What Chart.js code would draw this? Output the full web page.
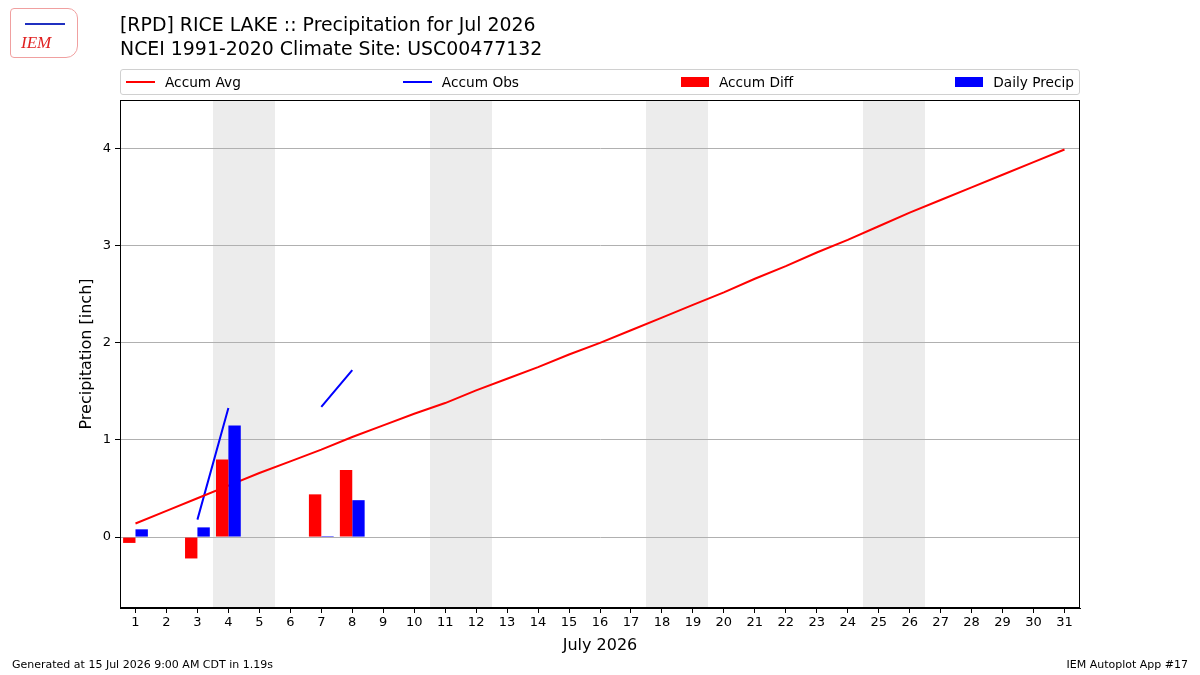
<!DOCTYPE html>
<html>
<head>
<meta charset="utf-8">
<script src="https://cdn.jsdelivr.net/npm/chart.js@4.4.1/dist/chart.umd.min.js"></script>
<style>
  html, body { margin: 0; padding: 0; background: #fff; }
  body { width: 1200px; height: 675px; position: relative; overflow: hidden; font-family: "DejaVu Sans", sans-serif; color: #000; }
  #wrap { position: absolute; left: 0; top: 0; width: 1200px; height: 675px; }
  .title { position: absolute; left: 120px; font-size: 18.9px; white-space: nowrap; }
  #legend { position: absolute; left: 120px; top: 69px; width: 960px; height: 26px; border: 1px solid #d0d0d0; border-radius: 3px;
            display: flex; justify-content: space-between; align-items: center; padding: 0 5px 0 5px; box-sizing: border-box; font-size: 13.7px; }
  .item { display: flex; align-items: center; }
  .line { width: 29px; height: 2px; margin-right: 10px; }
  .box { width: 28px; height: 10px; margin-right: 10px; }
  .foot { position: absolute; top: 658px; font-size: 11px; white-space: nowrap; }
  #logo { position: absolute; left: 10px; top: 8px; width: 66px; height: 48px; border: 1px solid #f0a0a0; border-radius: 4px 10px 12px 4px; }
  #logo span { position: absolute; left: 10px; top: 24px; color: #e02020; font: italic 17px "Liberation Serif", serif; }
  #logo i { position: absolute; left: 14px; top: 14px; width: 40px; height: 2px; background: #2030c0; }
</style>
</head>
<body>
<div id="wrap"><canvas id="chart" width="1200" height="675"></canvas></div>
<div id="logo"><i></i><span>IEM</span></div>
<div class="title" style="top:13px">[RPD] RICE LAKE :: Precipitation for Jul 2026</div>
<div class="title" style="top:37px">NCEI 1991-2020 Climate Site: USC00477132</div>
<div id="legend">
  <div class="item"><div class="line" style="background:#ff0000"></div>Accum Avg</div>
  <div class="item"><div class="line" style="background:#0000ff"></div>Accum Obs</div>
  <div class="item"><div class="box" style="background:#ff0000"></div>Accum Diff</div>
  <div class="item"><div class="box" style="background:#0000ff"></div>Daily Precip</div>
</div>
<div class="foot" style="left:12px">Generated at 15 Jul 2026 9:00 AM CDT in 1.19s</div>
<div class="foot" style="right:12px">IEM Autoplot App #17</div>
<script>
const days = ['1','2','3','4','5','6','7','8','9','10','11','12','13','14','15','16',
              '17','18','19','20','21','22','23','24','25','26','27','28','29','30','31'];
const accumAvg = [0.14, 0.27, 0.40, 0.53, 0.66, 0.78, 0.90, 1.03, 1.15, 1.27, 1.38, 1.51, 1.63, 1.75, 1.88, 2.00,
                  2.13, 2.26, 2.39, 2.52, 2.66, 2.79, 2.93, 3.06, 3.20, 3.34, 3.47, 3.60, 3.73, 3.86, 3.99];
const accumObs = [0.08, null, 0.18, 1.33, null, null, 1.34, 1.72];
const accumDiff = [-0.06, null, -0.22, 0.80, null, null, 0.44, 0.69];
const dailyPrecip = [0.08, null, 0.10, 1.15, null, null, 0.01, 0.38];
// weekend spans as [first day, last day]
const weekendStart = ['4', '11', '18', '25'];
const weekendEnd = ['5', '12', '19', '26'];
const yTicks = [0, 1, 2, 3, 4];

const FONT = "'DejaVu Sans', sans-serif";

// grey bands behind weekends, drawn before the grid
const weekendShade = {
    id: 'weekendShade',
    beforeDraw(chart) {
        const {ctx, chartArea, scales: {x}} = chart;
        const half = (x.getPixelForValue(1) - x.getPixelForValue(0)) / 2;
        ctx.save();
        ctx.fillStyle = '#ececec';
        weekendStart.forEach((d, i) => {
            const x0 = Math.round(x.getPixelForValue(days.indexOf(d)) - half);
            const x1 = Math.round(x.getPixelForValue(days.indexOf(weekendEnd[i])) + half);
            ctx.fillRect(x0, chartArea.top, x1 - x0, chartArea.bottom - chartArea.top);
        });
        ctx.restore();
    }
};

const frame = {
    id: 'frame',
    afterDatasetsDraw(chart) {
        const {ctx, chartArea: a} = chart;
        ctx.save();
        ctx.strokeStyle = '#000';
        ctx.lineWidth = 1;
        ctx.strokeRect(Math.round(a.left) + 0.5, Math.round(a.top) + 0.5, Math.round(a.width) - 1, Math.round(a.height) - 1);
        ctx.restore();
    }
};

const ctx = document.getElementById('chart').getContext('2d');
const chart = new Chart(ctx, {
    data: {
        labels: days,
        datasets: [
            { type: 'line', label: 'Accum Avg', data: accumAvg, borderColor: '#ff0000', borderWidth: 2,
              pointRadius: 0, tension: 0, order: 2 },
            { type: 'line', label: 'Accum Obs', data: accumObs, borderColor: '#0000ff', borderWidth: 2,
              pointRadius: 0, tension: 0, spanGaps: false, order: 2 },
            { type: 'bar', label: 'Accum Diff', data: accumDiff, backgroundColor: '#ff0000', borderWidth: 0,
              categoryPercentage: 0.8, barPercentage: 1.0, order: 1 },
            { type: 'bar', label: 'Daily Precip', data: dailyPrecip, backgroundColor: '#0000ff', borderWidth: 0,
              categoryPercentage: 0.8, barPercentage: 1.0, order: 1 }
        ]
    },
    options: {
        responsive: false,
        animation: false,
        layout: { padding: { left: 0, right: 120, top: 100, bottom: 0 } },
        scales: {
            x: {
                type: 'category',
                offset: true,
                grid: { offset: false, drawOnChartArea: false, tickColor: '#000', tickLength: 5 },
                border: { color: '#000' },
                ticks: { color: '#000', font: { family: FONT, size: 13 }, padding: 2, maxRotation: 0, autoSkip: false },
                title: { display: true, text: 'July 2026', color: '#000', font: { family: FONT, size: 16 },
                         padding: { top: 0, bottom: 20 } },
                afterFit(s) { s.height = 67; }
            },
            y: {
                min: -0.73,
                max: 4.5,
                afterBuildTicks(s) { s.ticks = yTicks.map(v => ({ value: v })); },
                grid: { color: '#b0b0b0', tickColor: '#000', tickLength: 5 },
                border: { color: '#000' },
                ticks: { color: '#000', font: { family: FONT, size: 13 }, padding: 4 },
                title: { display: true, text: 'Precipitation [inch]', color: '#000', font: { family: FONT, size: 16 },
                         padding: { top: 77, bottom: 0 } },
                afterFit(s) { s.width = 120; }
            }
        },
        plugins: {
            legend: { display: false },
            tooltip: { enabled: false }
        }
    },
    plugins: [weekendShade, frame]
});
</script>
</body>
</html>
